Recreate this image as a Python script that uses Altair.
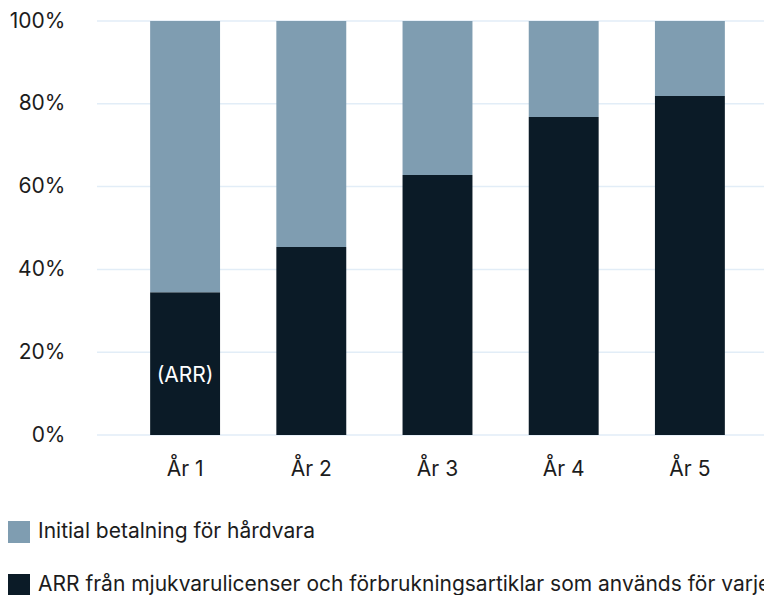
import altair as alt
import pandas as pd

years = ["År 1", "År 2", "År 3", "År 4", "År 5"]
arr_share = [34.5, 45.4, 62.8, 76.8, 81.9]
hardware_share = [65.5, 54.6, 37.2, 23.2, 18.1]
series_names = [
    "Initial betalning för hårdvara",
    "ARR från mjukvarulicenser och förbrukningsartiklar som används för varje år",
]
y_ticks = [0, 20, 40, 60, 80, 100]
inside_label = "(ARR)"

LIGHT = "#7f9db1"
DARK = "#0b1b27"
FONT = "Inter"
FS = 21

rows = []
for i, yr in enumerate(years):
    rows.append({"year": yr, "series": series_names[1], "value": arr_share[i], "ord": 0})
    rows.append({"year": yr, "series": series_names[0], "value": hardware_share[i], "ord": 1})
df = pd.DataFrame(rows)

lab = pd.DataFrame({"year": [years[0]], "mid": [arr_share[0] / 2], "text": [inside_label]})
ticks_df = pd.DataFrame({"value": y_ticks})

y_axis = alt.Axis(
    values=y_ticks, labelExpr="datum.value + '%'",
    labelFontSize=FS, labelFont=FONT, labelColor="#1c1c1c",
    labelPadding=57, domain=False, ticks=False, grid=False,
)
y_scale = alt.Scale(domain=[0, 100], nice=False)

x_enc = alt.X(
    "year:N",
    sort=years,
    title=None,
    scale=alt.Scale(paddingInner=0.446, paddingOuter=0.223),
    axis=alt.Axis(
        labelAngle=0, labelFontSize=FS, labelFont=FONT, labelColor="#1c1c1c",
        labelPadding=23, domain=False, ticks=False, grid=False,
    ),
)

grid = alt.Chart(ticks_df).mark_rule(color="#e2edf7", strokeWidth=1.5).encode(
    y=alt.Y("value:Q", scale=y_scale, axis=y_axis, title=None),
    x=alt.value(-25),
    x2=alt.value(650),
)

bars = alt.Chart(df).mark_bar().encode(
    x=x_enc,
    y=alt.Y("value:Q", stack="zero", title=None, scale=y_scale, axis=y_axis),
    color=alt.Color(
        "series:N",
        scale=alt.Scale(domain=series_names, range=[LIGHT, DARK]),
        legend=alt.Legend(
            title=None, orient="none", legendX=-114, legendY=500,
            direction="vertical", symbolType="square", symbolSize=484,
            symbolStrokeWidth=0, labelFontSize=FS, labelFont=FONT,
            labelColor="#1c1c1c", labelLimit=2000, rowPadding=31, labelOffset=8,
        ),
    ),
    order=alt.Order("ord:Q", sort="ascending"),
)

text = alt.Chart(lab).mark_text(
    color="white", fontSize=FS, font=FONT, dy=12
).encode(x=alt.X("year:N", sort=years), y=alt.Y("mid:Q"), text="text:N")

chart = (
    alt.layer(grid, bars, text)
    .properties(
        width=631, height=414,
        autosize=alt.AutoSizeParams(type="none"),
        padding={"left": 114, "top": 13, "right": 11, "bottom": 160},
    )
    .configure_view(stroke=None)
)

chart.save("out.html", embed_options={"renderer": "svg", "actions": False})
